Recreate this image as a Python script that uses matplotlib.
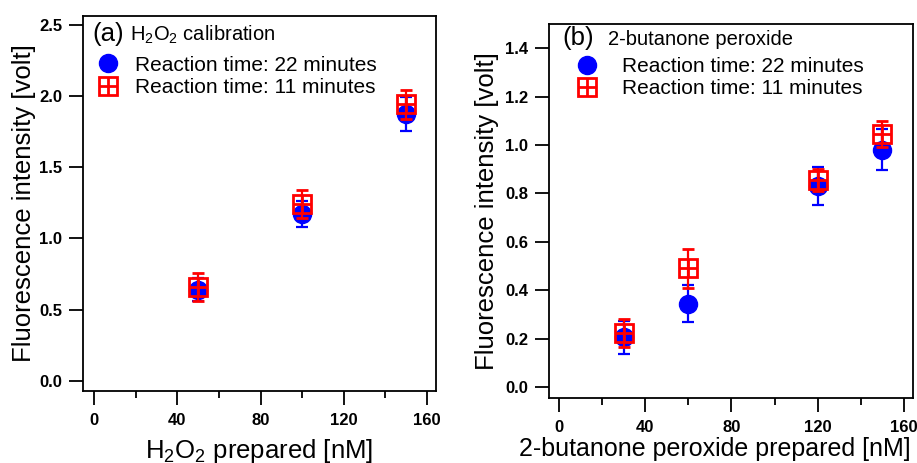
import matplotlib
matplotlib.use("Agg")
import matplotlib.pyplot as plt
from matplotlib.lines import Line2D
from matplotlib.ticker import MultipleLocator, FormatStrFormatter

plt.rcParams["font.family"] = ["Liberation Sans", "DejaVu Sans"]
plt.rcParams["mathtext.default"] = "regular"

# (a) H2O2 calibration
h2o2_conc = [50, 100, 150]
h2o2_22min = [0.64, 1.17, 1.87]
h2o2_22min_err = [0.08, 0.09, 0.12]
h2o2_11min = [0.66, 1.24, 1.94]
h2o2_11min_err = [0.10, 0.10, 0.10]

# (b) 2-butanone peroxide
mekp_conc = [30, 60, 120, 150]
mekp_22min = [0.205, 0.345, 0.83, 0.98]
mekp_22min_err = [0.07, 0.075, 0.08, 0.085]
mekp_11min = [0.225, 0.49, 0.855, 1.045]
mekp_11min_err = [0.058, 0.08, 0.045, 0.055]

BLUE = "#0000ff"
RED = "#ff0000"
MS = 13


def draw_series(ax, x, y22, e22, y11, e11):
    ax.errorbar(x, y22, yerr=e22, fmt="o", color=BLUE, ms=MS, mec=BLUE,
                elinewidth=1.6, capsize=4.5, capthick=1.6, zorder=3)
    ax.errorbar(x, y11, yerr=e11, fmt="s", color=RED, ms=MS, mfc="none", mec=RED,
                mew=2, elinewidth=1.6, capsize=4.5, capthick=1.6, zorder=4)
    ax.plot(x, y11, ls="none", marker="+", ms=MS, mew=2, color=RED, zorder=5)


def style_axes(ax):
    for sp in ax.spines.values():
        sp.set_linewidth(1.3)
    ax.xaxis.set_major_locator(MultipleLocator(40))
    ax.xaxis.set_minor_locator(MultipleLocator(20))
    ax.yaxis.set_major_formatter(FormatStrFormatter("%.1f"))
    ax.tick_params(axis="x", which="major", direction="out", length=10, width=1.3,
                   pad=6, labelsize=12)
    ax.tick_params(axis="x", which="minor", direction="out", length=5, width=1.3)
    ax.tick_params(axis="y", which="major", direction="out", length=10, width=1.3,
                   pad=5, labelsize=12)
    for lab in ax.get_xticklabels() + ax.get_yticklabels():
        lab.set_fontweight("bold")


def add_legend(ax, anchor, textpad):
    h22 = Line2D([], [], ls="none", marker="o", ms=MS, color=BLUE)
    h11a = Line2D([], [], ls="none", marker="s", ms=MS, mfc="none", mec=RED, mew=2)
    h11b = Line2D([], [], ls="none", marker="+", ms=MS, mew=2, color=RED)
    ax.legend([h22, (h11a, h11b)],
              ["Reaction time: 22 minutes", "Reaction time: 11 minutes"],
              loc="upper left", bbox_to_anchor=anchor, frameon=False,
              fontsize=15, handlelength=1.2, handletextpad=textpad,
              labelspacing=0.15, borderaxespad=0, borderpad=0)


fig = plt.figure(figsize=(9.17, 4.63), dpi=100)
ax1 = fig.add_axes([0.0905, 0.1555, 0.385, 0.81])
ax2 = fig.add_axes([0.5987, 0.1404, 0.397, 0.808])

# panel (a)
draw_series(ax1, h2o2_conc, h2o2_22min, h2o2_22min_err, h2o2_11min, h2o2_11min_err)
ax1.set_xlim(-5.3, 164.3)
ax1.set_ylim(-0.07, 2.56)
ax1.yaxis.set_major_locator(MultipleLocator(0.5))
style_axes(ax1)
ax1.set_xlabel("H$_2$O$_2$ prepared [nM]", fontsize=18.5, labelpad=6)
ax1.set_ylabel("Fluorescence intensity [volt]", fontsize=18.5, labelpad=2)
ax1.text(0.028, 0.933, "(a)", transform=ax1.transAxes, fontsize=18.5, va="baseline")
ax1.text(0.133, 0.933, "H$_2$O$_2$ calibration", transform=ax1.transAxes,
         fontsize=14.5, va="baseline")
add_legend(ax1, (0.035, 0.894), 0.7)

# panel (b)
draw_series(ax2, mekp_conc, mekp_22min, mekp_22min_err, mekp_11min, mekp_11min_err)
ax2.set_xlim(-4.6, 164.2)
ax2.set_ylim(-0.045, 1.5)
ax2.yaxis.set_major_locator(MultipleLocator(0.2))
style_axes(ax2)
ax2.set_xlabel("2-butanone peroxide prepared [nM]", fontsize=18, labelpad=2)
ax2.xaxis.set_label_coords(0.456, -0.104)
ax2.set_ylabel("Fluorescence intensity [volt]", fontsize=18.5, labelpad=4)
ax2.text(0.036, 0.944, "(b)", transform=ax2.transAxes, fontsize=18.5, va="baseline")
ax2.text(0.162, 0.944, "2-butanone peroxide", transform=ax2.transAxes,
         fontsize=14.5, va="baseline")
add_legend(ax2, (0.07, 0.911), 1.08)

fig.savefig("out.png", dpi=100)
